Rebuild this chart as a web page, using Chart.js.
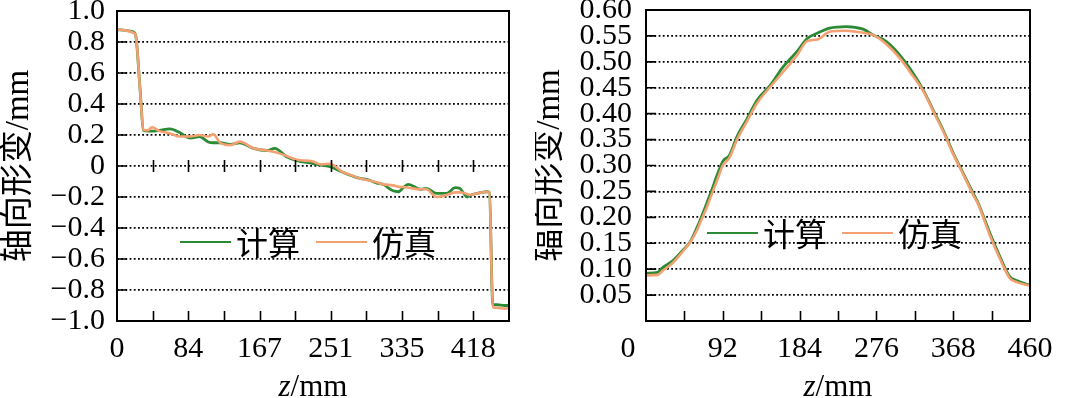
<!DOCTYPE html>
<html>
<head>
<meta charset="utf-8">
<script src="https://cdn.jsdelivr.net/npm/chart.js@4/dist/chart.umd.min.js"></script>
<style>
  html, body { margin: 0; padding: 0; background: #fff; }
  #wrap { position: relative; width: 1070px; height: 398px; overflow: hidden; }
  canvas { position: absolute; top: 0; }
  #axial { left: 0; }
  #radial { left: 535px; }
</style>
</head>
<body>
<div id="wrap">
  <canvas id="axial" width="535" height="398"></canvas>
  <canvas id="radial" width="535" height="398"></canvas>
</div>
<script>
// axial deformation (left panel)
const axialZ = [0, 10, 19, 22, 27, 31, 36, 41, 50, 62, 74, 86, 97, 107, 113, 121, 133, 144, 160, 176,
    185, 199, 211, 229, 240, 250, 265, 273, 285, 293, 305, 312, 324, 330, 336, 342, 356, 363, 375, 387,
    397, 402, 411, 414, 428, 434, 437, 441, 446, 455, 460];
const axialCalc = [0.88, 0.875, 0.865, 0.84, 0.50, 0.23, 0.225, 0.225, 0.23, 0.24, 0.215, 0.18, 0.19, 0.155, 0.15, 0.15, 0.14, 0.15, 0.114, 0.10,
    0.114, 0.06, 0.035, 0.017, 0.005, -0.005, -0.04, -0.058, -0.08, -0.086, -0.11, -0.118, -0.16, -0.166, -0.14, -0.118, -0.15, -0.144, -0.176, -0.176,
    -0.14, -0.144, -0.20, -0.19, -0.17, -0.166, -0.17, -0.895, -0.895, -0.90, -0.90];
const axialSim = [0.88, 0.875, 0.86, 0.84, 0.50, 0.235, 0.23, 0.25, 0.225, 0.21, 0.19, 0.19, 0.20, 0.19, 0.205, 0.15, 0.135, 0.157, 0.114, 0.10,
    0.09, 0.065, 0.04, 0.03, 0.01, 0.015, -0.04, -0.055, -0.08, -0.09, -0.105, -0.118, -0.125, -0.133, -0.136, -0.14, -0.15, -0.15, -0.20, -0.187,
    -0.17, -0.17, -0.18, -0.187, -0.17, -0.166, -0.17, -0.91, -0.915, -0.92, -0.915];
const axialYTicks = [-1, -0.8, -0.6, -0.4, -0.2, 0, 0.2, 0.4, 0.6, 0.8, 1];
const axialYLabels = ['\u22121.0', '\u22120.8', '\u22120.6', '\u22120.4', '\u22120.2', '0', '0.2', '0.4', '0.6', '0.8', '1.0'];
const axialXTicks = [0, 41.82, 83.64, 125.45, 167.27, 209.09, 250.91, 292.73, 334.55, 376.36, 418.18, 460];
const axialXLabels = ['0', '', '84', '', '167', '', '251', '', '335', '', '418', ''];

// radial deformation (right panel)
const radialZ = [0, 14, 20, 32, 45, 53, 61, 65, 73, 77, 86, 92, 100, 109, 121, 133, 149, 164, 181, 193,
    205, 220, 240, 260, 272, 288, 304, 320, 332, 344, 356, 368, 380, 392, 398, 412, 424, 436, 444, 460];
const radialCalc = [0.092, 0.094, 0.103, 0.116, 0.138, 0.153, 0.18, 0.195, 0.228, 0.245, 0.285, 0.308, 0.32, 0.356, 0.39, 0.426, 0.455, 0.49, 0.52, 0.545,
    0.555, 0.565, 0.568, 0.563, 0.552, 0.539, 0.513, 0.478, 0.446, 0.407, 0.368, 0.324, 0.285, 0.246, 0.227, 0.169, 0.124, 0.085, 0.078, 0.069];
const radialSim = [0.088, 0.089, 0.097, 0.112, 0.136, 0.152, 0.175, 0.19, 0.22, 0.237, 0.275, 0.30, 0.315, 0.35, 0.385, 0.42, 0.452, 0.48, 0.513, 0.54,
    0.543, 0.558, 0.560, 0.556, 0.552, 0.534, 0.507, 0.472, 0.444, 0.405, 0.366, 0.322, 0.283, 0.243, 0.225, 0.165, 0.12, 0.082, 0.075, 0.068];
const radialYTicks = [0, 0.05, 0.1, 0.15, 0.2, 0.25, 0.3, 0.35, 0.4, 0.45, 0.5, 0.55, 0.6];
const radialYLabels = ['', '0.05', '0.10', '0.15', '0.20', '0.25', '0.30', '0.35', '0.40', '0.45', '0.50', '0.55', '0.60'];
const radialXTicks = [0, 46, 92, 138, 184, 230, 276, 322, 368, 414, 460];
const radialXLabels = ['0\u2003\u2009', '', '92', '', '184', '', '276', '', '368', '', '460'];

const seriesNames = ['计算', '仿真'];
const GREEN = '#2b8a34';
const ORANGE = '#f3a172';
const NUM_FONT = '"Liberation Serif", "Noto Sans CJK SC", serif';

function toPoints(xs, ys) {
    return xs.map((x, i) => ({ x, y: ys[i] }));
}

// frame, inward tick marks, legend and the z/mm title
const decorPlugin = {
    id: 'decor',
    afterDraw(chart, args, opts) {
        const ctx = chart.ctx;
        const area = chart.chartArea;
        const xs = chart.scales.x;
        const ys = chart.scales.y;
        ctx.save();
        ctx.strokeStyle = '#000';
        ctx.lineWidth = 1.6;
        ctx.setLineDash([]);
        ctx.beginPath();
        ys.ticks.forEach((t) => {
            if (t.value === ys.min || t.value === ys.max) return;
            const y = ys.getPixelForValue(t.value);
            ctx.moveTo(area.left, y);
            ctx.lineTo(area.left + 10, y);
        });
        xs.ticks.forEach((t) => {
            if (t.value === xs.min || t.value === xs.max) return;
            const x = Math.round(xs.getPixelForValue(t.value)) + 0.5;
            ctx.moveTo(x, area.bottom);
            ctx.lineTo(x, area.bottom - 10);
            if (opts.zeroTicks) {
                const y0 = ys.getPixelForValue(0);
                ctx.moveTo(x, y0 - 6);
                ctx.lineTo(x, y0 + 6);
            }
        });
        ctx.stroke();

        ctx.lineWidth = 2;
        ctx.strokeRect(area.left, area.top, area.right - area.left, area.bottom - area.top);

        // legend
        const lg = opts.legend;
        ctx.font = '32px "Noto Sans CJK SC", sans-serif';
        ctx.textBaseline = 'middle';
        ctx.textAlign = 'left';
        [[GREEN, lg.x1, seriesNames[0]], [ORANGE, lg.x2, seriesNames[1]]].forEach(([col, x, name]) => {
            ctx.strokeStyle = col;
            ctx.lineWidth = 2;
            ctx.beginPath();
            ctx.moveTo(x, lg.y);
            ctx.lineTo(x + 51, lg.y);
            ctx.stroke();
            ctx.fillStyle = '#000';
            ctx.fillText(name, x + 56, lg.y + 1);
        });

        // x axis title: italic z + /mm
        const cx = (area.left + area.right) / 2;
        ctx.textBaseline = 'alphabetic';
        ctx.font = 'italic 31px "Liberation Serif", serif';
        const wz = ctx.measureText('z').width;
        ctx.font = '31px "Liberation Serif", serif';
        const wm = ctx.measureText('/mm').width;
        const x0 = cx - (wz + wm) / 2;
        ctx.font = 'italic 31px "Liberation Serif", serif';
        ctx.fillText('z', x0, 396);
        ctx.font = '31px "Liberation Serif", serif';
        ctx.fillText('/mm', x0 + wz, 396);
        ctx.restore();
    },
};

function makeChart(id, cfg) {
    return new Chart(document.getElementById(id), {
        type: 'line',
        data: {
            datasets: [
                { label: seriesNames[1], data: toPoints(cfg.z, cfg.sim), borderColor: ORANGE, borderWidth: 2.6 },
                { label: seriesNames[0], data: toPoints(cfg.z, cfg.calc), borderColor: GREEN, borderWidth: 2.8 },
            ],
        },
        options: {
            responsive: false,
            animation: false,
            devicePixelRatio: 1,
            layout: { padding: { top: cfg.top, right: cfg.right, left: 0, bottom: 0 } },
            elements: {
                point: { radius: 0 },
                line: { cubicInterpolationMode: 'monotone', fill: false },
            },
            plugins: {
                legend: { display: false },
                tooltip: { enabled: false },
                decor: { legend: cfg.legend, zeroTicks: cfg.zeroTicks },
            },
            scales: {
                x: {
                    type: 'linear',
                    min: 0,
                    max: 460,
                    afterBuildTicks: (s) => { s.ticks = cfg.xTicks.map((v) => ({ value: v })); },
                    afterFit: (s) => { s.height = 77; },
                    grid: { display: false, drawTicks: false },
                    border: { display: false },
                    ticks: {
                        autoSkip: false,
                        maxRotation: 0,
                        padding: 10,
                        color: '#000',
                        font: { family: NUM_FONT, size: 30 },
                        callback: (v, i) => cfg.xLabels[i],
                    },
                },
                y: {
                    min: cfg.yTicks[0],
                    max: cfg.yTicks[cfg.yTicks.length - 1],
                    afterBuildTicks: (s) => { s.ticks = cfg.yTicks.map((v) => ({ value: v })); },
                    afterFit: (s) => { s.width = cfg.left; s.paddingTop = 0; s.paddingBottom = 0; },
                    grid: { color: '#000', lineWidth: 1.8, drawTicks: false },
                    border: { display: false, dash: [1.8, 2.4] },
                    ticks: {
                        autoSkip: false,
                        padding: cfg.yPad,
                        color: '#000',
                        font: { family: NUM_FONT, size: 30, lineHeight: 0.1 },
                        callback: (v, i) => cfg.yLabels[i],
                    },
                    title: {
                        display: true,
                        text: cfg.yTitle,
                        color: '#000',
                        padding: 0,
                        font: { family: NUM_FONT, size: 33, lineHeight: cfg.titleLH },
                    },
                },
            },
        },
        plugins: [decorPlugin],
    });
}

makeChart('axial', {
    z: axialZ, calc: axialCalc, sim: axialSim,
    xTicks: axialXTicks, xLabels: axialXLabels,
    yTicks: axialYTicks, yLabels: axialYLabels,
    yTitle: '轴向形变/mm', titleLH: 1.15,
    top: 11, right: 26, left: 117, yPad: 12,
    legend: { x1: 180, x2: 316, y: 242 },
    zeroTicks: true,
});

makeChart('radial', {
    z: radialZ, calc: radialCalc, sim: radialSim,
    xTicks: radialXTicks, xLabels: radialXLabels,
    yTicks: radialYTicks, yLabels: radialYLabels,
    yTitle: '辐向形变/mm', titleLH: 0.95,
    top: 10, right: 40, left: 111, yPad: 14,
    legend: { x1: 172, x2: 307, y: 233 },
    zeroTicks: false,
});
</script>
</body>
</html>
